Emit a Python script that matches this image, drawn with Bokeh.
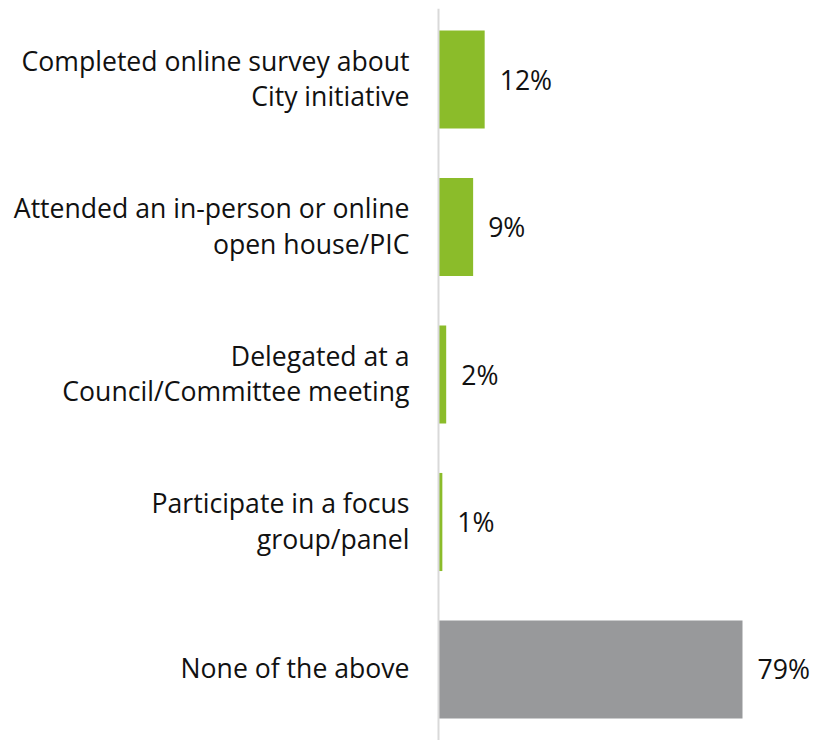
from bokeh.plotting import figure
from bokeh.models import ColumnDataSource, FactorRange, Range1d, Span
from bokeh.core.properties import value
from bokeh.embed import file_html
from bokeh.resources import INLINE

categories = [
    "Completed online survey about\nCity initiative",
    "Attended an in-person or online\nopen house/PIC",
    "Delegated at a\nCouncil/Committee meeting",
    "Participate in a focus\ngroup/panel",
    "None of the above",
]
values = [12, 9, 2, 1, 79]
labels = ["12%", "9%", "2%", "1%", "79%"]
colors = ["#8bbc2a", "#8bbc2a", "#8bbc2a", "#8bbc2a", "#98999b"]

FONT = "Open Sans"
W, H = 816, 740
zero_px = 438
px_per_unit = 304 / 79.0

src = ColumnDataSource(dict(cat=categories, val=values, lab=labels, col=colors,
                            zero=[0] * len(values)))

p = figure(width=W, height=H, output_backend="svg", toolbar_location=None,
           y_range=FactorRange(factors=list(reversed(categories)),
                               range_padding=-0.0186, range_padding_units="absolute"),
           x_range=Range1d(-zero_px / px_per_unit, (W - zero_px) / px_per_unit),
           min_border=0, min_border_left=0, min_border_right=0,
           min_border_top=8, min_border_bottom=0)
p.axis.visible = False
p.grid.visible = False
p.outline_line_color = None
p.background_fill_color = "white"

p.hbar(y="cat", left=0, right="val", height=0.665, fill_color="col",
       line_color=None, source=src)

p.add_layout(Span(location=0, dimension="height", line_color="#d9d9d9", line_width=2))

p.text(x="zero", y="cat", text="cat", source=src, x_offset=-29, y_offset=-1,
       text_align="right", text_baseline="middle", text_color="#111111",
       text_font=value(FONT), text_font_size="26.6px", text_line_height=0.995)

p.text(x="val", y="cat", text="lab", source=src, x_offset=15,
       text_align="left", text_baseline="middle", text_color="#111111",
       text_font=value(FONT), text_font_size="26.6px")

open("out.html", "w").write(file_html(p, INLINE))
